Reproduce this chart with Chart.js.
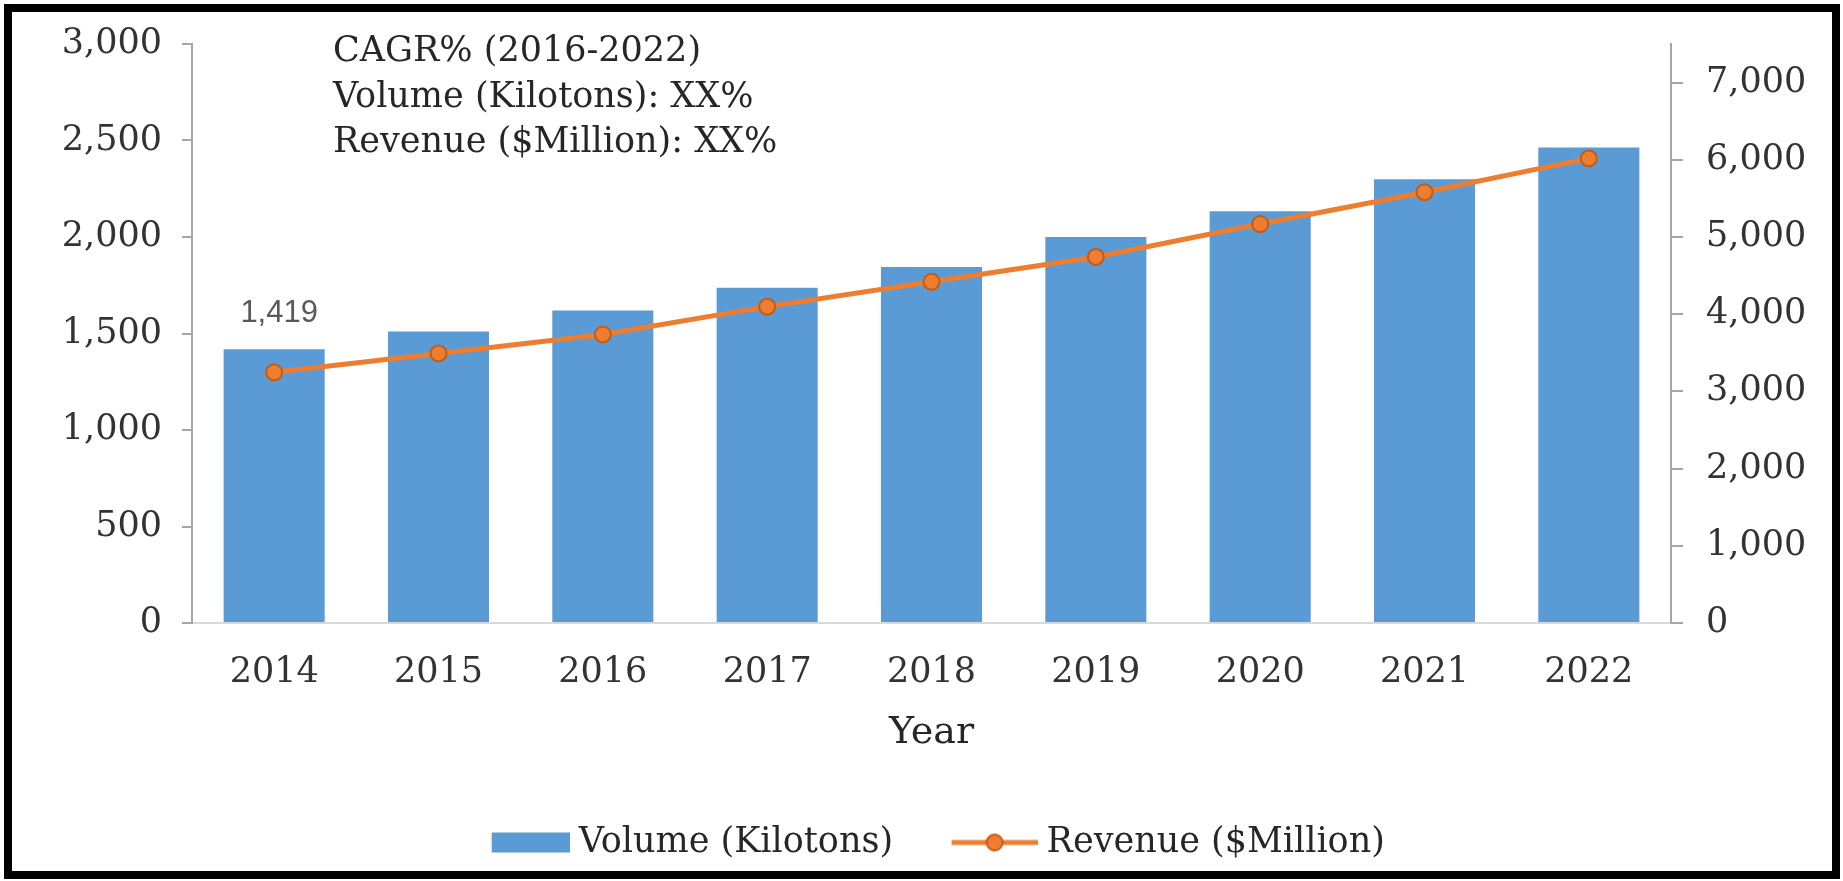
<!DOCTYPE html>
<html lang="en">
<head>
    <meta charset="UTF-8">
    <title>Volume and Revenue 2014-2022</title>
    <script src="https://cdn.jsdelivr.net/npm/chart.js"></script>
    <style>
        html, body {
            margin: 0;
            padding: 0;
            background: #fff;
            overflow: hidden;
        }
        #moldura {
            position: absolute;
            left: 4px;
            top: 4px;
            width: 1836px;
            height: 875px;
            box-sizing: border-box;
            border: 8px solid #000;
        }
        #caixa {
            position: absolute;
            left: 0;
            top: 0;
            width: 1843px;
            height: 881px;
        }
    </style>
</head>
<body>

    <div id="moldura"></div>
    <div id="caixa"><canvas id="grafico"></canvas></div>

    <script>
        const anos = ['2014', '2015', '2016', '2017', '2018', '2019', '2020', '2021', '2022'];
        const volume = [1419, 1510, 1619, 1737, 1845, 2000, 2134, 2299, 2464];
        const receita = [3247, 3492, 3737, 4098, 4420, 4742, 5168, 5580, 6018];
        const ticksVolume = [0, 500, 1000, 1500, 2000, 2500, 3000];
        const ticksReceita = [0, 1000, 2000, 3000, 4000, 5000, 6000, 7000];
        const textoCagr = ['CAGR% (2016-2022)', 'Volume (Kilotons): XX%', 'Revenue ($Million): XX%'];

        const corBarra = '#5B9BD5';
        const corLinha = '#ED7D31';
        const corBordaPonto = '#C55A11';

        Chart.defaults.font.family = '"DejaVu Serif", serif';

        // icones da legenda: barra azul e linha com marcador
        function iconeLegenda(tipo) {
            const c = document.createElement('canvas');
            c.width = 141;
            c.height = 24;
            const g = c.getContext('2d');
            if (tipo === 'barra') {
                g.fillStyle = corBarra;
                g.fillRect(141 - 78, 2, 78, 20);
            } else {
                g.strokeStyle = corLinha;
                g.lineWidth = 5;
                g.beginPath();
                g.moveTo(141 - 86, 12);
                g.lineTo(141, 12);
                g.stroke();
                g.beginPath();
                g.arc(141 - 43, 12, 8, 0, Math.PI * 2);
                g.fillStyle = corLinha;
                g.fill();
                g.lineWidth = 2;
                g.strokeStyle = corBordaPonto;
                g.stroke();
            }
            return c;
        }

        const pluginTextos = {
            id: 'textos',
            afterDatasetsDraw(chart) {
                const ctx = chart.ctx;
                const area = chart.chartArea;
                const barra = chart.getDatasetMeta(0).data[0];
                ctx.save();
                ctx.font = '31px "Liberation Sans", Arial, sans-serif';
                ctx.fillStyle = '#595959';
                ctx.textAlign = 'center';
                ctx.textBaseline = 'alphabetic';
                ctx.fillText(volume[0].toLocaleString('en-US'), barra.x + 5, barra.y - 27);

                ctx.font = '35px "DejaVu Serif", serif';
                ctx.fillStyle = '#262626';
                ctx.textAlign = 'left';
                textoCagr.forEach((linha, i) => {
                    ctx.fillText(linha, area.left + 141, area.top + 17 + i * 45.5);
                });
                ctx.restore();
            }
        };

        const ctx = document.getElementById('grafico').getContext('2d');
        new Chart(ctx, {
            type: 'bar',
            data: {
                labels: anos,
                datasets: [{
                    label: 'Volume (Kilotons)',
                    data: volume,
                    backgroundColor: corBarra,
                    barPercentage: 0.615,
                    categoryPercentage: 1,
                    yAxisID: 'y',
                    order: 1
                }, {
                    type: 'line',
                    label: 'Revenue ($Million)',
                    data: receita,
                    borderColor: corLinha,
                    borderWidth: 5,
                    pointRadius: 8,
                    pointBackgroundColor: corLinha,
                    pointBorderColor: corBordaPonto,
                    pointBorderWidth: 2,
                    tension: 0,
                    yAxisID: 'y1',
                    order: 0
                }]
            },
            options: {
                responsive: true,
                maintainAspectRatio: false,
                animation: false,
                layout: {
                    padding: { left: 0, right: 21, top: 39, bottom: 11 }
                },
                scales: {
                    x: {
                        grid: { display: false },
                        border: { display: true, color: '#d9d9d9', width: 2 },
                        ticks: { color: '#333', font: { size: 35 }, padding: 21 },
                        title: {
                            display: true,
                            text: 'Year',
                            color: '#262626',
                            font: { size: 38 },
                            padding: { top: 0, bottom: 57 }
                        },
                        afterFit: (s) => { s.height = 190; }
                    },
                    y: {
                        position: 'left',
                        min: 0,
                        max: 3000,
                        ticks: { color: '#333', font: { size: 35 }, padding: 20 },
                        grid: { drawOnChartArea: false, drawTicks: true, tickLength: 10, color: '#a6a6a6', lineWidth: 2 },
                        border: { display: true, color: '#a6a6a6', width: 2 },
                        afterBuildTicks: (s) => { s.ticks = ticksVolume.map(v => ({ value: v })); },
                        afterFit: (s) => { s.width = 192; }
                    },
                    y1: {
                        position: 'right',
                        min: 0,
                        max: 7500,
                        ticks: { color: '#333', font: { size: 35 }, padding: 23 },
                        grid: { drawOnChartArea: false, drawTicks: true, tickLength: 12, color: '#a6a6a6', lineWidth: 2 },
                        border: { display: true, color: '#a6a6a6', width: 2 },
                        afterBuildTicks: (s) => { s.ticks = ticksReceita.map(v => ({ value: v })); },
                        afterFit: (s) => { s.width = 151; }
                    }
                },
                plugins: {
                    legend: {
                        display: true,
                        position: 'bottom',
                        labels: {
                            usePointStyle: true,
                            pointStyleWidth: 124,
                            padding: 12,
                            color: '#262626',
                            font: { size: 35 },
                            generateLabels: () => [
                                { text: 'Volume (Kilotons)', pointStyle: iconeLegenda('barra'), datasetIndex: 0, hidden: false, lineWidth: 0, fontColor: '#262626' },
                                { text: 'Revenue ($Million)', pointStyle: iconeLegenda('linha'), datasetIndex: 1, hidden: false, lineWidth: 0, fontColor: '#262626' }
                            ]
                        }
                    },
                    tooltip: { enabled: false }
                }
            },
            plugins: [pluginTextos]
        });
    </script>
</body>
</html>
